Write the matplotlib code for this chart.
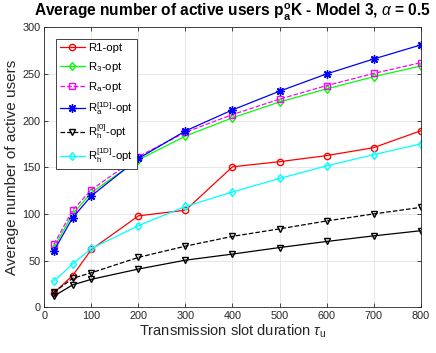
import matplotlib
matplotlib.use("Agg")
import matplotlib.pyplot as plt

# =========================
# Data
# =========================
slot = [20, 60, 100, 200, 300, 400, 500, 600, 700, 800]

r1_opt = [15.5, 34, 62, 98, 104, 150.5, 156, 162.5, 171, 189]
r3_opt = [64, 100, 123, 158, 183.5, 203, 220, 234, 247, 258.5]
ra_opt = [67.5, 104, 126, 161.5, 187.5, 206.5, 223, 237.5, 250.5, 262]
ra1d_opt = [60.5, 96, 119.5, 159.5, 189, 211.5, 231.5, 250, 266, 281]
rh0_opt = [16, 31, 37, 53.5, 65.5, 76, 84, 92.5, 100, 107]
rh_extra = [12, 24, 30, 41, 50.5, 57, 64, 70.5, 76.5, 82]
rh1d_opt = [28, 46.5, 63, 87.5, 108, 123.5, 138, 151.5, 163.5, 175]

x_ticks = [0, 100, 200, 300, 400, 500, 600, 700, 800]
y_ticks = [0, 50, 100, 150, 200, 250, 300]

# =========================
# Style
# =========================
plt.rcParams["font.family"] = ["Liberation Sans", "DejaVu Sans"]
plt.rcParams["mathtext.fontset"] = "custom"
plt.rcParams["mathtext.rm"] = "Liberation Sans"
plt.rcParams["mathtext.it"] = "Liberation Sans:italic"
plt.rcParams["mathtext.bf"] = "Liberation Sans:bold"

AX_COLOR = "#262626"
LW = 0.9
MS = 4.5
ASTER = (8, 2, 0)

fig = plt.figure(figsize=(4.36, 3.53), dpi=100)
ax = fig.add_axes([0.102, 0.1295, 0.8625, 0.7932])

ax.plot(slot, r1_opt, "-o", color="red", lw=LW, ms=MS, mfc="none", label="R1-opt")
ax.plot(slot, r3_opt, "-d", color="#00ff00", lw=LW, ms=MS, mfc="none", label=r"R$_\mathrm{3}$-opt")
ax.plot(slot, ra_opt, "--s", color="magenta", lw=LW, ms=MS, mfc="none", label=r"R$_\mathrm{a}$-opt")
ax.plot(slot, ra1d_opt, "-", marker=ASTER, color="blue", lw=LW, ms=MS + 1.5, mew=1.0,
        label=r"R$_\mathrm{a}^\mathrm{[1D]}$-opt")
ax.plot(slot, rh0_opt, "--v", color="black", lw=LW, ms=MS + 0.5, mfc="none",
        label=r"R$_\mathrm{h}^\mathrm{[0]}$-opt")
ax.plot(slot, rh1d_opt, "-d", color="cyan", lw=LW, ms=MS, mfc="none",
        label=r"R$_\mathrm{h}^\mathrm{[1D]}$-opt")
ax.plot(slot, rh_extra, "-v", color="black", lw=LW, ms=MS + 0.5, mfc="none")

ax.set_xlim(0, 800)
ax.set_ylim(0, 300)
ax.set_xticks(x_ticks)
ax.set_yticks(y_ticks)
ax.grid(True, color="#e3e3e3", lw=0.6)
ax.set_axisbelow(True)

ax.tick_params(direction="in", length=3, width=0.6, colors=AX_COLOR,
               labelsize=7.8, top=True, right=True, pad=3)
for sp in ax.spines.values():
    sp.set_color(AX_COLOR)
    sp.set_linewidth(0.6)

ax.set_xlabel(r"Transmission slot duration $\tau_\mathrm{u}$", fontsize=10.5, color=AX_COLOR, labelpad=1)
ax.set_ylabel("Average number of active users", fontsize=11, color=AX_COLOR, labelpad=2)
ax.set_title(r"Average number of active users p$_\mathbf{a}^\mathbf{o}$K - Model 3, $\alpha$ = 0.5",
             fontsize=11.2, fontweight="bold", pad=8)

leg = ax.legend(loc="upper left", bbox_to_anchor=(0.03, 0.957), fontsize=8.2,
                handlelength=2.2, borderpad=0.35, labelspacing=0.55,
                handletextpad=0.3, borderaxespad=0.0, fancybox=False, framealpha=1)
leg.get_frame().set_edgecolor(AX_COLOR)
leg.get_frame().set_linewidth(0.6)

fig.savefig("out.png", dpi=100)
